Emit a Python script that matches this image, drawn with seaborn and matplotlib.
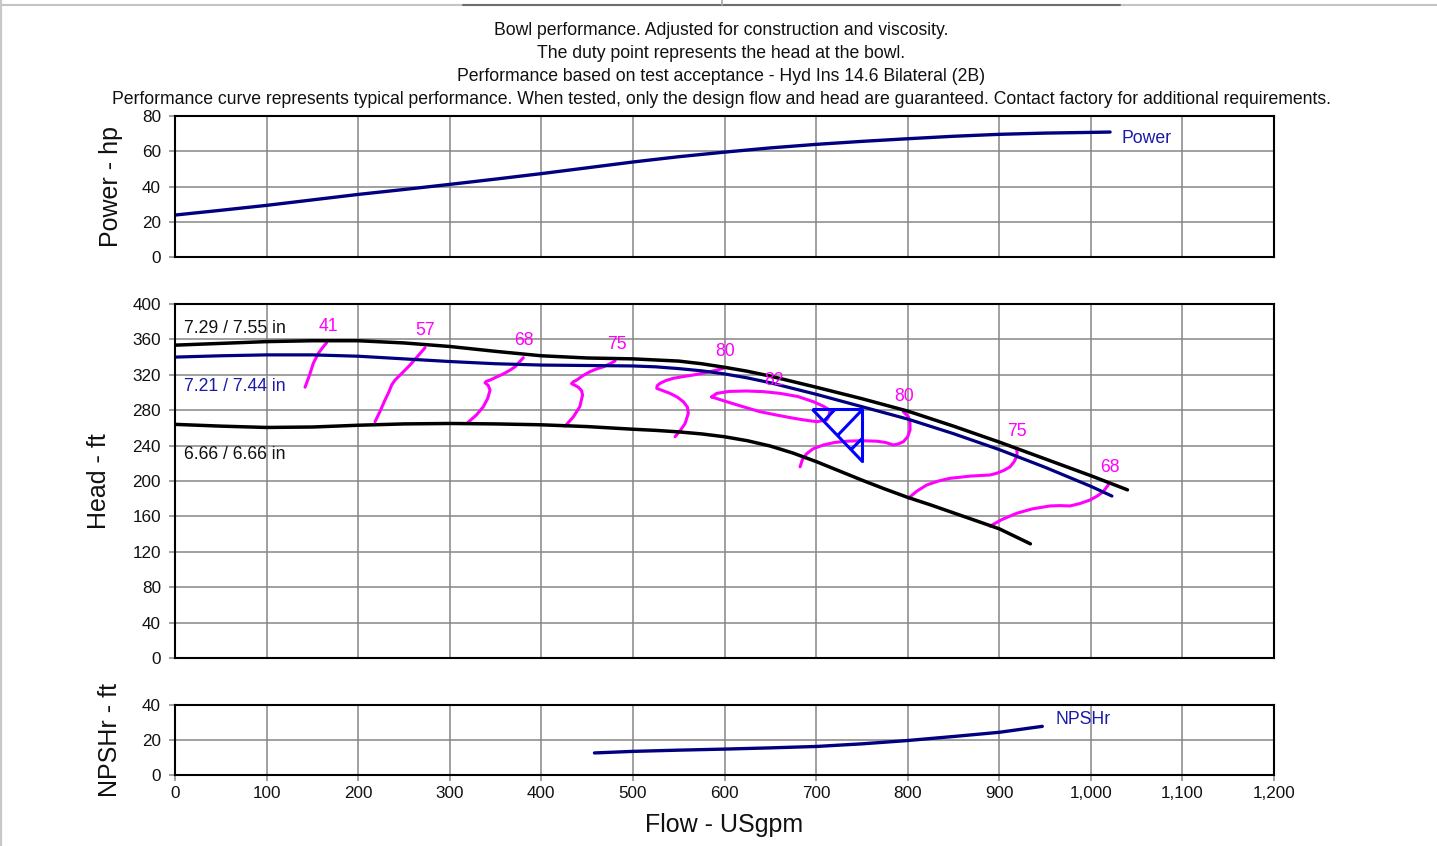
import numpy as np
import pandas as pd
import matplotlib
matplotlib.use("Agg")
import matplotlib.pyplot as plt
from matplotlib.path import Path
from matplotlib.lines import Line2D
from matplotlib.ticker import FuncFormatter, MultipleLocator
import seaborn as sns

# ---------------------------------------------------------------- data
title_lines = [
    "Bowl performance. Adjusted for construction and viscosity.",
    "The duty point represents the head at the bowl.",
    "Performance based on test acceptance - Hyd Ins 14.6 Bilateral (2B)",
    "Performance curve represents typical performance. When tested, only the design flow and head are guaranteed. Contact factory for additional requirements.",
]

# Power curve (hp)
power_flow = [0, 50, 100, 150, 200, 250, 300, 350, 400, 450, 500, 550, 600,
              650, 700, 750, 800, 850, 900, 950, 1000, 1021]
power_hp = [23.8, 26.5, 29.3, 32.4, 35.5, 38.3, 41.2, 44.2, 47.3, 50.6, 53.9,
            56.9, 59.5, 61.9, 63.9, 65.6, 67.1, 68.5, 69.6, 70.3, 70.7, 70.9]

# Head curves (ft) for the three impeller diameters
max_dia_label = "7.29 / 7.55 in"
max_flow = [0, 50, 100, 150, 200, 250, 300, 350, 400, 450, 500, 550, 575, 600,
            625, 650, 700, 750, 800, 850, 900, 950, 1000, 1040]
max_head = [353.5, 355.5, 357.5, 358.5, 358.5, 356, 352, 346.5, 341.5, 339, 338,
            335.5, 332.5, 328.5, 324, 318.5, 306, 293, 279, 262, 244, 225, 206, 190]

rated_dia_label = "7.21 / 7.44 in"
rated_flow = [0, 50, 100, 150, 200, 250, 300, 350, 400, 450, 500, 525, 550, 575,
              600, 625, 650, 700, 750, 800, 850, 900, 950, 1000, 1023]
rated_head = [340, 341.5, 342.5, 342.5, 341, 338, 335, 332.5, 331, 330.5, 330,
              329, 327, 324.5, 321, 316.5, 311, 298, 284, 270, 253.5, 235.5,
              215.5, 194, 183]

min_dia_label = "6.66 / 6.66 in"
min_flow = [0, 50, 100, 150, 200, 250, 300, 350, 400, 450, 500, 525, 550, 575,
            600, 625, 650, 675, 700, 725, 750, 775, 800, 825, 850, 875, 900, 934]
min_head = [264, 262, 260.5, 261, 263, 264.5, 265, 264.5, 263.5, 261.5, 258.5,
            257.2, 255.5, 253.2, 250, 245.5, 239.5, 231.5, 222, 211.5, 201, 191,
            181.5, 173, 164, 155, 146, 129]

# Efficiency contours (%)
eff_values = [41, 57, 68, 75, 80, 82, 80, 75, 68]
eff_label_flow = [168, 273, 381, 483, 601, 654, 796, 919, 1021]
eff_label_head = [375, 369.5, 359.3, 354.8, 345.8, 313, 295, 255.4, 214.7]

eff41_flow = [142, 147, 151, 156.5, 161, 165.6]
eff41_head = [306, 320, 333, 344.3, 350.5, 356.3]
eff57_flow = [218.4, 224, 229.3, 233.5, 236.6, 240.2, 248, 256.6, 265, 273]
eff57_head = [267, 279, 291.5, 300.5, 308.5, 314, 322, 331, 341, 350.6]
eff68_flow = [319.6, 329, 336.7, 341.5, 344, 342, 338.5, 340, 344, 351, 358.5, 365, 371.3, 380.3]
eff68_head = [265.9, 274.5, 284, 293.5, 302.8, 308, 311, 312.8, 314, 317.5, 321, 324.8, 329, 339.3]
eff75_flow = [425.9, 435, 442, 445, 444, 440.4, 436, 433, 435, 438.6, 445, 453, 460, 467.7, 474, 480.5]
eff75_head = [262, 272.5, 284, 297, 302, 306, 308.5, 310, 312.2, 314, 318.8, 323.5, 326.5, 329, 332, 335.6]
eff80_flow = [546, 552, 557, 560.5, 559.5, 555, 548.5, 540.5, 533, 526, 526.5, 529.6, 536,
              544, 555, 566, 575, 584, 592, 598.7]
eff80_head = [250, 257.5, 265, 276.5, 283.5, 289.6, 294.8, 299, 302, 304.7, 307.7, 310.4, 313.5,
              316, 318, 319.8, 321.5, 323.5, 325.5, 327.3]
eff82_flow = [586, 591.5, 605, 624, 642, 660.6, 680, 697, 708, 715, 714, 711.6, 700.7, 688,
              675, 657, 638.8, 620, 602.4, 592, 586]
eff82_head = [295, 299, 301.2, 301.7, 301, 299, 295.5, 289.6, 284.5, 280, 273.5, 269, 267, 268.8,
              271, 274.5, 278.3, 284, 289.6, 293, 295]
eff80r_flow = [682.5, 685, 689.8, 697, 708, 720, 733.5, 750, 766, 776, 784.4, 790, 795.3, 800,
               802.6, 802.5, 800.7, 795.3]
eff80r_head = [216, 224, 231, 236.5, 240.7, 243.5, 245, 245.5, 245, 243.5, 240.7, 242, 244.4, 250,
               257.6, 266, 272.7, 278.3]
eff75r_flow = [800.7, 810, 820.8, 833, 846, 868, 890, 897, 905, 911.8, 916, 919, 919.5, 919]
eff75r_head = [180.5, 188.5, 195.5, 199.8, 203, 205.5, 206.8, 208.7, 212, 216, 221.5, 227.5, 232, 235.8]
eff68r_flow = [890, 903, 919, 936, 955.4, 966, 977.3, 988, 999, 1007, 1013.6, 1019]
eff68r_head = [149, 156.5, 163.5, 168.5, 171.8, 172.2, 171.8, 174.5, 178.5, 183, 188, 195.5]

# Duty point
duty_flow = 750
duty_head = 281

# NPSH required (ft)
npsh_flow = [458, 500, 550, 600, 650, 700, 750, 800, 850, 900, 947]
npsh_ft = [12.6, 13.5, 14.2, 14.8, 15.5, 16.3, 17.8, 19.7, 22.0, 24.4, 27.8]

x_ticks = list(range(0, 1201, 100))

# ---------------------------------------------------------------- style
sns.set_theme(style="white")
plt.rcParams["font.family"] = ["Liberation Sans", "DejaVu Sans"]

NAVY = "#000080"
BLACK = "#000000"
MAGENTA = "#FF00FF"
DUTY_BLUE = "#0000FF"
GRID = "#868686"
TXT = 12.7

W, H = 1437, 846
fig = plt.figure(figsize=(W / 100, H / 100), dpi=100)


def px_axes(left, top, right, bottom):
    return fig.add_axes([left / W, 1 - bottom / H, (right - left) / W, (bottom - top) / H])


ax_pow = px_axes(175, 116, 1274, 257)
ax_head = px_axes(175, 304, 1274, 658)
ax_npsh = px_axes(175, 705, 1274, 775)


def style_axes(ax, ymax, ystep, label, label_x, show_x):
    ax.set_xlim(0, 1200)
    ax.set_ylim(0, ymax)
    ax.xaxis.set_major_locator(MultipleLocator(100))
    ax.yaxis.set_major_locator(MultipleLocator(ystep))
    ax.set_axisbelow(True)
    ax.grid(True, color=GRID, lw=1.1)
    for s in ax.spines.values():
        s.set_color(BLACK)
        s.set_linewidth(1.5)
        s.set_visible(True)
    ax.tick_params(axis="y", left=True, length=4, width=1.1, color=GRID,
                   labelsize=12.3, pad=6, labelcolor="#111111")
    if show_x:
        ax.tick_params(axis="x", bottom=True, length=4, width=1.1, color=GRID,
                       labelsize=12.3, pad=4, labelcolor="#111111")
        ax.xaxis.set_major_formatter(FuncFormatter(lambda v, p: f"{int(v):,}"))
    else:
        ax.tick_params(axis="x", bottom=False, labelbottom=False)
    ax.set_xlabel("")
    ax.set_ylabel(label, fontsize=18, color="#111111", va="center")
    ax.yaxis.set_label_coords(label_x, 0.5)


style_axes(ax_pow, 80, 20, "Power - hp", (111 - 175) / 1099, False)
style_axes(ax_head, 400, 40, "Head - ft", (99 - 175) / 1099, False)
style_axes(ax_npsh, 40, 20, "NPSHr - ft", (110 - 175) / 1099, True)

# ---------------------------------------------------------------- power
sns.lineplot(x=power_flow, y=power_hp, ax=ax_pow, color=NAVY, lw=2.4,
             sort=False, estimator=None)
ax_pow.text(1034, 67.5, "Power", color="#1a1aa8", fontsize=TXT, ha="left", va="center")
ax_pow.set_xlim(0, 1200)
ax_pow.set_ylim(0, 80)

# ---------------------------------------------------------------- head
contours = [
    (eff41_flow, eff41_head), (eff57_flow, eff57_head), (eff68_flow, eff68_head),
    (eff75_flow, eff75_head), (eff80_flow, eff80_head), (eff82_flow, eff82_head),
    (eff80r_flow, eff80r_head), (eff75r_flow, eff75r_head), (eff68r_flow, eff68r_head),
]
for cf, ch in contours:
    sns.lineplot(x=cf, y=ch, ax=ax_head, color=MAGENTA, lw=2.2, sort=False,
                 estimator=None)

sns.lineplot(x=max_flow, y=max_head, ax=ax_head, color=BLACK, lw=2.5, sort=False, estimator=None)
sns.lineplot(x=rated_flow, y=rated_head, ax=ax_head, color=NAVY, lw=2.3, sort=False, estimator=None)
sns.lineplot(x=min_flow, y=min_head, ax=ax_head, color=BLACK, lw=2.5, sort=False, estimator=None)

for val, lf, lh in zip(eff_values, eff_label_flow, eff_label_head):
    ax_head.text(lf, lh, f"{val}", color=MAGENTA, fontsize=TXT, ha="center",
                 va="center", zorder=6)

ax_head.text(10, 371.8, max_dia_label, color="#111111", fontsize=TXT, ha="left", va="center")
ax_head.text(10, 307.3, rated_dia_label, color="#1a1aa8", fontsize=TXT, ha="left", va="center")
ax_head.text(10, 230.5, min_dia_label, color="#111111", fontsize=TXT, ha="left", va="center")

# Duty point symbol: hatched right triangle hanging from the point
duty_verts = [(-0.96, 0), (0, 0), (0, -1), (-0.96, 0),
              (0, 0), (-0.48, -0.5),
              (-0.53, 0), (-0.74, -0.22),
              (0, -0.55), (-0.21, -0.76)]
duty_codes = [Path.MOVETO, Path.LINETO, Path.LINETO, Path.LINETO,
              Path.MOVETO, Path.LINETO,
              Path.MOVETO, Path.LINETO,
              Path.MOVETO, Path.LINETO]
duty_marker = Path(duty_verts, duty_codes)
ax_head.plot([duty_flow], [duty_head], marker=duty_marker, markersize=75,
             markerfacecolor="none", markeredgecolor=DUTY_BLUE, markeredgewidth=2.2,
             linestyle="none", zorder=5)
ax_head.set_xlim(0, 1200)
ax_head.set_ylim(0, 400)

# ---------------------------------------------------------------- NPSH
sns.lineplot(x=npsh_flow, y=npsh_ft, ax=ax_npsh, color=NAVY, lw=2.4, sort=False, estimator=None)
ax_npsh.text(961, 32, "NPSHr", color="#1a1aa8", fontsize=TXT, ha="left", va="center")
ax_npsh.set_xticks(x_ticks)
ax_npsh.set_xlim(0, 1200)
ax_npsh.set_ylim(0, 40)
ax_npsh.set_xlabel("Flow - USgpm", fontsize=18, color="#111111", va="center")
ax_npsh.xaxis.set_label_coords(0.5, (775 - 825) / 70)

# ---------------------------------------------------------------- titles
for i, line in enumerate(title_lines):
    fig.text(0.502, 1 - (30.5 + 23 * i) / H, line, fontsize=TXT, color="#111111",
             ha="center", va="center")

# page frame remnants
fig.add_artist(Line2D([0, 1], [1 - 5 / H] * 2, transform=fig.transFigure,
                      color="#c4c4c4", lw=1.5))
fig.add_artist(Line2D([463 / W, 1120 / W], [1 - 5 / H] * 2, transform=fig.transFigure,
                      color="#6e6e6e", lw=1.5))
fig.add_artist(Line2D([722 / W] * 2, [1, 1 - 5 / H], transform=fig.transFigure,
                      color="#a8a8a8", lw=1.2))
fig.add_artist(Line2D([1.2 / W] * 2, [0, 1], transform=fig.transFigure,
                      color="#c8c8c8", lw=1.6))

fig.savefig("out.png", dpi=100)
